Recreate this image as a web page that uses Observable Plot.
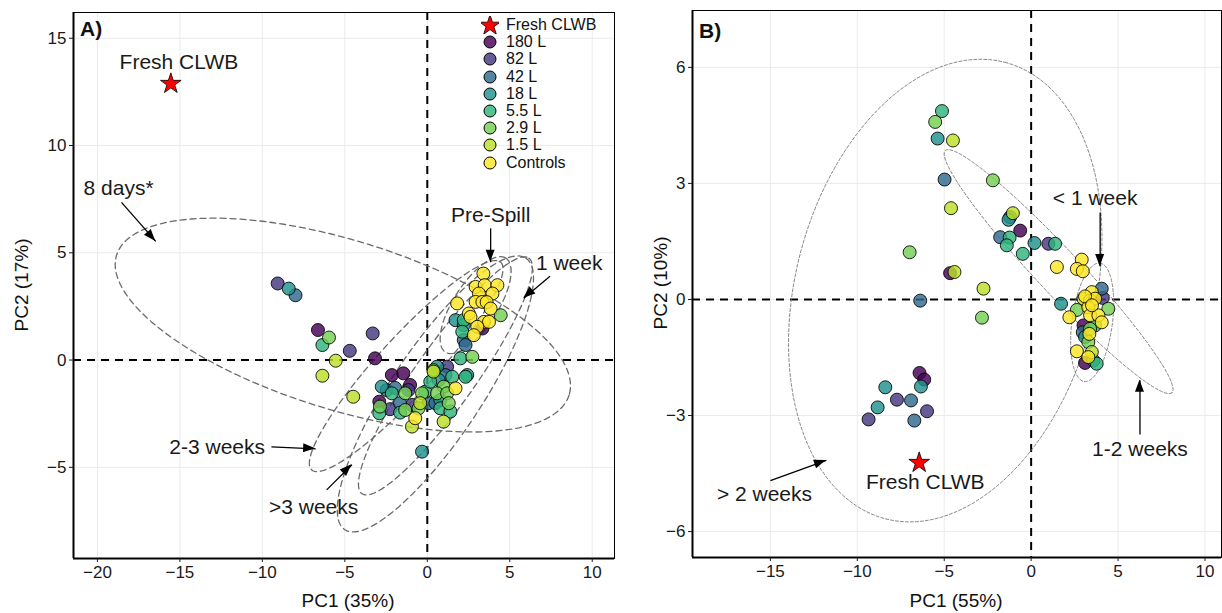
<!DOCTYPE html>
<html><head><meta charset="utf-8">
<script src="https://cdn.jsdelivr.net/npm/d3@7"></script>
<script src="https://cdn.jsdelivr.net/npm/@observablehq/plot@0.6"></script>
<style>
body{margin:0;background:#fff;font-family:"Liberation Sans",Arial,sans-serif;color:#111;}
#wrap{position:relative;width:1222px;height:613px;overflow:hidden;background:#fff;}
.abs{position:absolute;white-space:nowrap;}
</style></head><body>
<div id="wrap"><div id="pa" class="abs" style="left:0;top:0"></div><div id="pb" class="abs" style="left:620px;top:0"></div></div>
<script>
// ---------- categories ----------
const groups = ["180 L","82 L","42 L","18 L","5.5 L","2.9 L","1.5 L","Controls"];
const colorPos = [0, 0.16, 0.34, 0.5, 0.65, 0.79, 0.9, 1];

// ---------- Panel A (PC1 35%, PC2 17%) ----------
const a180 = [[-6.63,1.40],[-3.17,0.08],[-2.15,-0.70],[-1.45,-0.62],[-1.04,-1.16],[-2.91,-1.94],[3.34,1.47]];
const a82  = [[-9.07,3.57],[-3.31,1.24],[-4.70,0.43],[-1.14,-1.40],[-2.26,-2.29],[-0.93,-2.09],[1.20,-0.31]];
const a42  = [[-7.99,3.02],[-2.46,-1.40],[-1.65,-2.01],[0.08,-2.01],[0.49,-2.01],[1.10,-0.70],[2.21,0.93],[2.32,0.70],[-1.95,-1.30]];
const a18  = [[-8.40,3.33],[-0.32,-4.27],[-2.76,-1.24],[0.59,-0.31],[0.69,-0.93],[0.79,-1.86],[2.42,-0.70],[1.71,1.86],[2.21,1.63]];
const a55  = [[-6.36,0.70],[-2.15,-1.55],[-2.91,-2.48],[-0.12,-1.47],[0.18,-1.01],[1.51,-0.78],[0.79,-2.25],[1.40,-2.40],[-1.65,-2.45],[2.01,0.08],[2.21,1.86],[2.12,1.32],[2.32,-0.78]];
const a29  = [[-5.96,1.05],[-1.34,-1.55],[-2.87,-2.17],[-1.34,-2.33],[-0.53,-2.25],[-0.32,-1.55],[0.38,-0.47],[0.99,-1.24],[0.59,-1.55],[1.20,-1.55],[1.30,-2.01],[2.73,0.15],[4.45,2.09]];
const a15  = [[-5.55,-0.03],[-6.36,-0.73],[-4.49,-1.71],[-0.93,-3.10],[-0.43,-2.01],[0.38,-0.54],[0.99,-2.87]];
const aCtl = [[-0.73,-2.71],[1.71,-1.32],[3.40,4.03],[2.93,3.41],[3.48,3.49],[4.25,3.49],[3.95,3.10],[3.13,3.10],[1.81,2.64],[2.93,2.71],[3.34,2.71],[3.60,2.70],[3.84,2.40],[2.52,2.17],[2.62,2.01],[3.43,1.78],[3.74,1.78],[3.03,1.55],[2.82,1.16]];
const aFresh = [[-15.55,12.88]];
// ellipses: centre x, centre y, half-axis vector 1 (x,y), half-axis vector 2 (x,y)
const aEllipses = [
  [-5.12,1.63,13.72,-3.26,-1.52,-3.77],
  [-1.28,-0.28,5.73,4.84,1.28,-0.88],
  [0.49,-1.58,5.49,6.33,2.29,-1.15],
  [1.10,-0.74,5.06,5.49,1.49,-0.80],
  [2.93,2.56,1.83,2.19,1.13,-0.55]
];
const aLabels = [["Fresh CLWB",-15.06,13.86],["8 days*",-18.72,8.0],["Pre-Spill",3.84,6.74],["1 week",8.6,4.51],["2-3 weeks",-12.74,-4.05],[">3 weeks",-6.89,-6.84]];
const aArrows = [[-18.54,7.35,-16.46,5.53],[3.84,6.14,3.84,4.56],[7.44,3.91,5.85,2.88],[-9.45,-4.05,-6.77,-4.14],[-6.10,-6.05,-4.57,-4.88]];
const aXTicks = [-20,-15,-10,-5,0,5,10];
const aYTicks = [-5,0,5,10,15];

// ---------- Panel B (PC1 55%, PC2 10%) ----------
const b180 = [[-4.66,0.68],[-0.63,1.78],[-6.42,-1.90],[-6.15,-2.07],[3.01,-0.67],[3.10,-1.64]];
const b82  = [[0.99,1.44],[4.12,0.04],[-7.72,-2.59],[-5.99,-2.89],[-9.35,-3.10]];
const b42  = [[-4.98,3.10],[-1.78,1.61],[-1.21,2.13],[-6.38,-0.03],[4.06,0.28],[2.97,-0.85],[-6.91,-2.61],[-6.72,-3.13]];
const b18  = [[-5.38,4.16],[-1.30,2.06],[0.19,1.46],[1.72,-0.11],[3.10,-0.97],[3.58,-1.58],[-6.34,-2.25],[-8.39,-2.27],[-8.83,-2.79]];
const b55  = [[-5.13,4.87],[-1.24,1.60],[-1.40,1.40],[-0.48,1.18],[1.38,1.44],[3.68,-0.67],[3.77,-1.66]];
const b29  = [[-5.52,4.59],[-2.20,3.08],[-6.99,1.22],[-2.83,-0.47],[4.44,-0.24],[2.63,-0.27],[3.39,-0.76],[3.29,-1.10]];
const b15  = [[-4.50,4.11],[-4.61,2.36],[-4.41,0.71],[-2.74,0.28],[-1.05,2.23],[3.01,0.02],[3.49,-1.36]];
const bCtl = [[1.48,0.84],[2.91,1.03],[2.63,0.79],[2.97,0.73],[3.49,0.19],[3.39,-0.03],[3.68,0.02],[2.20,-0.46],[3.29,-0.20],[3.39,-0.41],[3.87,-0.41],[4.06,-0.59],[3.35,-0.89],[2.63,-1.34],[3.29,-1.49],[3.10,0.08],[3.50,-0.15]];
const bFresh = [[-6.44,-4.22]];
const bEllipses = [
  [1.58,0.72,6.52,-3.13,-0.92,-0.39],
  [3.51,-0.59,0.46,1.53,1.15,-0.08],
  [-4.94,0.23,3.45,5.90,8.33,-0.98]
];
const bLabels = [["< 1 week",3.68,2.61],["1-2 weeks",6.26,-3.88],["> 2 weeks",-15.34,-5.04],["Fresh CLWB",-6.09,-4.73]];
const bArrows = [[3.97,2.25,3.97,0.85],[6.26,-3.49,6.26,-2.09],[-15.0,-4.68,-11.78,-4.16]];
const bXTicks = [-15,-10,-5,0,5,10];
const bYTicks = [-6,-3,0,3,6];

// ---------- helpers ----------
const colors = colorPos.map(t => d3.interpolateViridis(t));
const FONT = "Liberation Sans, Arial, sans-serif";
function table(sets){ const out=[]; sets.forEach((s,i)=>s.forEach(([x,y])=>out.push({x,y,group:groups[i]}))); return out; }
function ellipsePts(list){
  const out=[];
  list.forEach((e,k)=>{ for(let d=0; d<=360; d+=3){ const r=d*Math.PI/180; out.push({id:k,x:e[0]+e[2]*Math.cos(r)+e[4]*Math.sin(r),y:e[1]+e[3]*Math.cos(r)+e[5]*Math.sin(r)}); } });
  return out;
}
function heads(arrows){
  return (index, scales) => {
    const g = d3.create("svg:g");
    arrows.forEach(a=>{
      const x1=scales.x(a[0]), y1=scales.y(a[1]), x2=scales.x(a[2]), y2=scales.y(a[3]);
      const ang=Math.atan2(y2-y1,x2-x1), L=12, W=4.5;
      const bx=x2-L*Math.cos(ang), by=y2-L*Math.sin(ang);
      const px=-Math.sin(ang)*W, py=Math.cos(ang)*W;
      g.append("path").attr("d",`M${x2},${y2}L${bx+px},${by+py}L${bx-px},${by-py}Z`).attr("fill","black");
    });
    return g.node();
  };
}
function panel(o){
  const pts = table(o.sets);
  const xmin=o.xd[0], ymin=o.yd[0];
  return Plot.plot({
    width:o.width, height:613,
    marginLeft:o.ml, marginRight:o.mr, marginTop:o.mt, marginBottom:o.mb,
    x:{domain:o.xd, label:null}, y:{domain:o.yd, label:null},
    color:{domain:groups, range:colors},
    style:{fontFamily:FONT, fontSize:"17px", color:"#1a1a1a", background:"white"},
    marks:[
      Plot.gridX(o.xt,{stroke:"#ebebeb",strokeOpacity:1,strokeWidth:1}),
      Plot.gridY(o.yt,{stroke:"#ebebeb",strokeOpacity:1,strokeWidth:1}),
      Plot.ruleX([0],{stroke:"black",strokeWidth:2,strokeDasharray:"8,6"}),
      Plot.ruleY([0],{stroke:"black",strokeWidth:2,strokeDasharray:"8,6"}),
      Plot.line(ellipsePts(o.ell),{x:"x",y:"y",z:"id",stroke:o.ellStroke,strokeWidth:o.ellWidth,strokeDasharray:o.ellDash,curve:"linear"}),
      Plot.dot(pts,{x:"x",y:"y",fill:"group",fillOpacity:0.82,r:6.5,stroke:"black",strokeWidth:1,strokeOpacity:0.85}),
      Plot.dot(o.fresh,{x:d=>d[0],y:d=>d[1],symbol:"star",fill:"red",stroke:"black",strokeWidth:0.8,r:6.5}),
      Plot.link(o.arrows,{x1:d=>d[0],y1:d=>d[1],x2:d=>d[2],y2:d=>d[3],stroke:"black",strokeWidth:1.3}),
      heads(o.arrows),
      Plot.text(o.labels,{x:d=>d[1],y:d=>d[2],text:d=>d[0],fontSize:21,fill:"#1a1a1a",fontFamily:FONT}),
      Plot.frame({stroke:"black",strokeWidth:1}),
      Plot.ruleX([xmin],{stroke:"black",strokeWidth:2}),
      Plot.ruleY([ymin],{stroke:"black",strokeWidth:2}),
      Plot.axisX(o.xt,{tickSize:4,tickPadding:3,fontSize:17,label:null}),
      Plot.axisY(o.yt,{tickSize:4,tickPadding:3,fontSize:17,label:null})
    ]
  });
}

document.getElementById("pa").append(panel({
  width:620, ml:73, mr:6, mt:12, mb:55,
  xd:[-21.45,11.35], yd:[-9.25,16.2], xt:aXTicks, yt:aYTicks,
  sets:[a180,a82,a42,a18,a55,a29,a15,aCtl], fresh:aFresh,
  ell:aEllipses, ellStroke:"#6b6b6b", ellWidth:1.3, ellDash:"6,4",
  labels:aLabels, arrows:aArrows
}));
document.getElementById("pb").append(panel({
  width:602, ml:72, mr:1, mt:10, mb:56,
  xd:[-19.48,10.95], yd:[-6.67,7.47], xt:bXTicks, yt:bYTicks,
  sets:[b180,b82,b42,b18,b55,b29,b15,bCtl], fresh:bFresh,
  ell:bEllipses, ellStroke:"#7a7a7a", ellWidth:0.9, ellDash:"3,2",
  labels:bLabels, arrows:bArrows
}));

// ---------- titles, panel tags, legend (HTML text) ----------
const wrap = document.getElementById("wrap");
function addText(txt, css){ const d=document.createElement("div"); d.className="abs"; d.textContent=txt; d.style.cssText+=css; wrap.append(d); return d; }
addText("A)", "left:80px;top:17px;font-size:21px;font-weight:bold;");
addText("B)", "left:699px;top:19px;font-size:21px;font-weight:bold;");
addText("PC1 (35%)", "left:348px;top:590px;font-size:19px;transform:translateX(-50%);line-height:22px;");
addText("PC1 (55%)", "left:956px;top:590px;font-size:19px;transform:translateX(-50%);line-height:22px;");
addText("PC2 (17%)", "left:22px;top:285px;font-size:19px;line-height:22px;transform:translate(-50%,-50%) rotate(-90deg);");
addText("PC2 (10%)", "left:661px;top:283px;font-size:19px;line-height:22px;transform:translate(-50%,-50%) rotate(-90deg);");

const legendRows = ["Fresh CLWB", ...groups];
legendRows.forEach((name,i)=>{
  const cy = 25 + i*17.2;
  const svg = d3.create("svg").attr("width",18).attr("height",18).style("position","absolute").style("left","481px").style("top",(cy-9)+"px");
  if(i===0){
    svg.append("path").attr("d",d3.symbol(d3.symbolStar, 130)()).attr("transform","translate(9,9.5)").attr("fill","red").attr("stroke","black").attr("stroke-width",0.8);
  } else {
    svg.append("circle").attr("cx",9).attr("cy",9).attr("r",6).attr("fill",colors[i-1]).attr("fill-opacity",0.82).attr("stroke","black").attr("stroke-width",1);
  }
  wrap.append(svg.node());
  addText(name, `left:506px;top:${cy-8}px;font-size:16px;line-height:16px;`);
});
</script>
</body></html>
